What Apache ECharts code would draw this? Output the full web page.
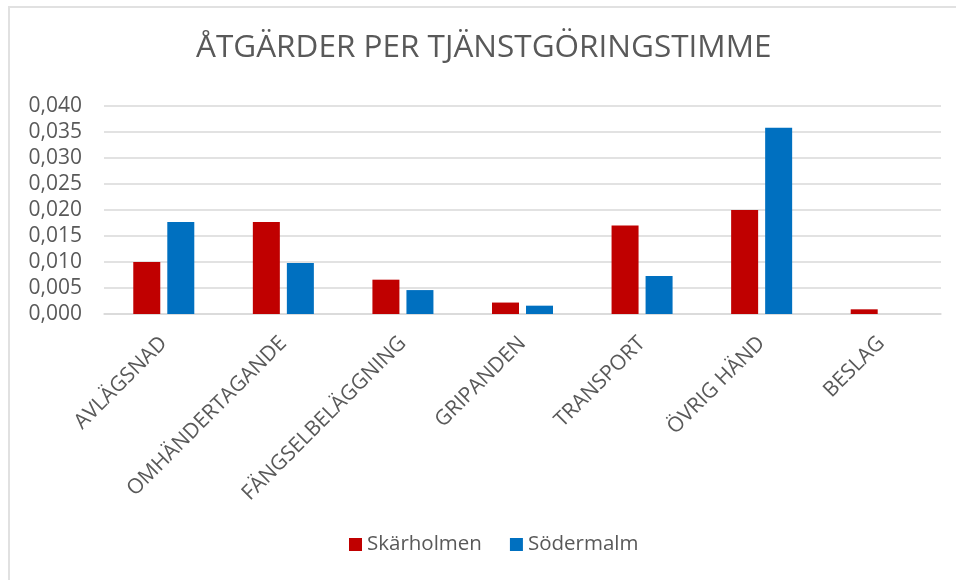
<!DOCTYPE html>
<html>
<head>
<meta charset="utf-8">
<script src="https://cdn.jsdelivr.net/npm/echarts@6/dist/echarts.min.js"></script>
<style>
  html, body { margin: 0; padding: 0; background: #fff; overflow: hidden; }
  .frame {
    position: absolute;
    left: 8px;
    top: 6px;
    width: 960px;
    height: 600px;
    border-left: solid 2px #e1e1e1;
    border-top: solid 2px #e1e1e1;
  }
  #chart { position: absolute; left: 0; top: 0; width: 956px; height: 580px; }
</style>
</head>
<body>
<div class="frame"></div>
<div id="chart"></div>
<script>
// kategorier och värden
const categories = ["AVLÄGSNAD", "OMHÄNDERTAGANDE", "FÄNGSELBELÄGGNING", "GRIPANDEN", "TRANSPORT", "ÖVRIG HÄND", "BESLAG"];
const skarholmen = [0.0100, 0.0177, 0.0066, 0.0022, 0.0170, 0.0200, 0.0009];
const sodermalm = [0.0177, 0.0098, 0.0046, 0.0016, 0.0073, 0.0358, 0];
const seriesNames = ["Skärholmen", "Södermalm"];

const font = "'Open Sans', 'Liberation Sans', sans-serif";
const textColor = "#595959";

let myChart = echarts.init(document.getElementById("chart"));
let option = {
  animation: false,
  title: {
    text: "ÅTGÄRDER PER TJÄNSTGÖRINGSTIMME",
    left: 191,
    top: 27,
    textStyle: {
      color: textColor,
      fontSize: 31.5,
      fontWeight: "normal",
      fontFamily: font
    }
  },
  grid: {
    left: 104,
    right: 15,
    top: 106,
    bottom: 266,
    containLabel: false
  },
  legend: {
    data: seriesNames,
    bottom: 20,
    left: 344,
    itemWidth: 13,
    itemHeight: 13,
    itemGap: 28,
    icon: "rect",
    textStyle: {
      color: textColor,
      fontSize: 20.5,
      fontFamily: font
    }
  },
  xAxis: {
    type: "category",
    data: categories,
    axisTick: { show: false },
    axisLine: {
      lineStyle: { color: "#d9d9d9", width: 1.5 }
    },
    axisLabel: {
      rotate: 45,
      interval: 0,
      margin: 26,
      padding: [30, 0, 0, 0],
      color: textColor,
      fontSize: 21,
      fontFamily: font
    }
  },
  yAxis: {
    type: "value",
    min: 0,
    max: 0.04,
    interval: 0.005,
    axisLine: { show: false },
    axisTick: { show: false },
    splitLine: {
      lineStyle: { color: "#d9d9d9", width: 1.5 }
    },
    axisLabel: {
      margin: 22,
      color: textColor,
      fontSize: 21,
      fontFamily: font,
      formatter: function (v) {
        return v.toFixed(3).replace(".", ",");
      }
    }
  },
  series: [
    {
      name: seriesNames[0],
      type: "bar",
      data: skarholmen,
      barWidth: 27,
      barGap: "26%",
      itemStyle: { color: "#c00000" }
    },
    {
      name: seriesNames[1],
      type: "bar",
      data: sodermalm,
      barWidth: 27,
      barGap: "26%",
      itemStyle: { color: "#0070c0" }
    }
  ]
};
myChart.setOption(option);
</script>
</body>
</html>
